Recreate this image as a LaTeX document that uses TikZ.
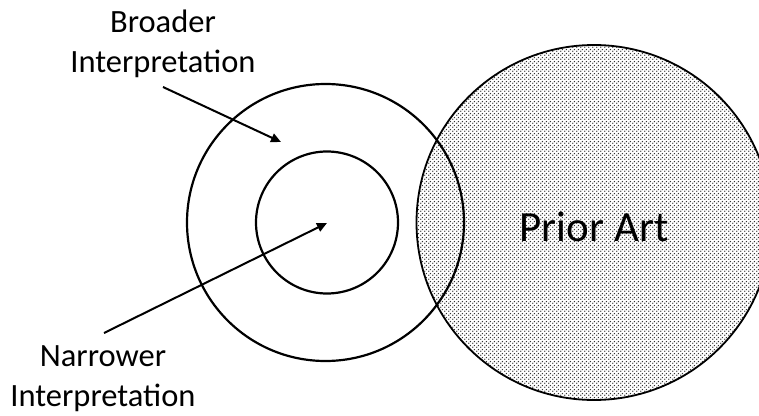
\documentclass[tikz,border=0pt]{standalone}
\usepackage{fontspec}
\setmainfont{Carlito}
\usetikzlibrary{patterns,arrows.meta}
\pgfdeclarepatternformonly{priordots}{\pgfpointorigin}{\pgfqpoint{4pt}{4pt}}{\pgfqpoint{4pt}{4pt}}{%
	\pgfpathcircle{\pgfqpoint{1pt}{1pt}}{.9pt}
	\pgfpathcircle{\pgfqpoint{3pt}{3pt}}{.9pt}
	\pgfusepath{fill}}
\begin{document}
\begin{tikzpicture}[x=1pt,y=-1pt,line width=2pt]
	\def \midrow{222.5}
	\tikzstyle{ring}=[circle,draw=black,line width=2.2pt,inner sep=0pt]
	\tikzstyle{art}=[circle,draw=black,line width=1.8pt,pattern=priordots,pattern color=black!80,inner sep=0pt]
	\tikzstyle{annot}=[align=center,inner sep=0pt,font=\fontsize{32.5}{40}\selectfont]
	\tikzstyle{pointer}=[-{Triangle[length=10pt,width=9pt]},line width=2pt]
	\useasboundingbox (0,0) rectangle (759,415);
	\clip (0,0) rectangle (759,415);
	
	% circles
	\node[art] 	(prior)	at (594,\midrow)	[minimum size=355pt]	{};
	\node[ring] 	(broad)	at (325.5,\midrow)	[minimum size=277pt]	{};
	\node[ring] 	(narrow)	at (327,\midrow)	[minimum size=142pt]	{};
	
	% labels
	\node[annot] 	(broad-lbl)	at (163,44)	{Broader\\Interpretation};
	\node[annot] 	(narrow-lbl)	at (103,379)	{Narrower\\Interpretation};
	\node[font=\fontsize{43}{50}\selectfont] 	(prior-lbl)	at (594,227)	{Prior Art};
	
	% arrow ends
	\coordinate (b-tail) at (163,87);
	\coordinate (b-tip) at (281,142);
	\coordinate (n-tail) at (104,333);
	\coordinate (n-tip) at (327,223);
	
	\draw[pointer] (b-tail) -- (b-tip);
	\draw[pointer] (n-tail) -- (n-tip);
\end{tikzpicture}
\end{document}
